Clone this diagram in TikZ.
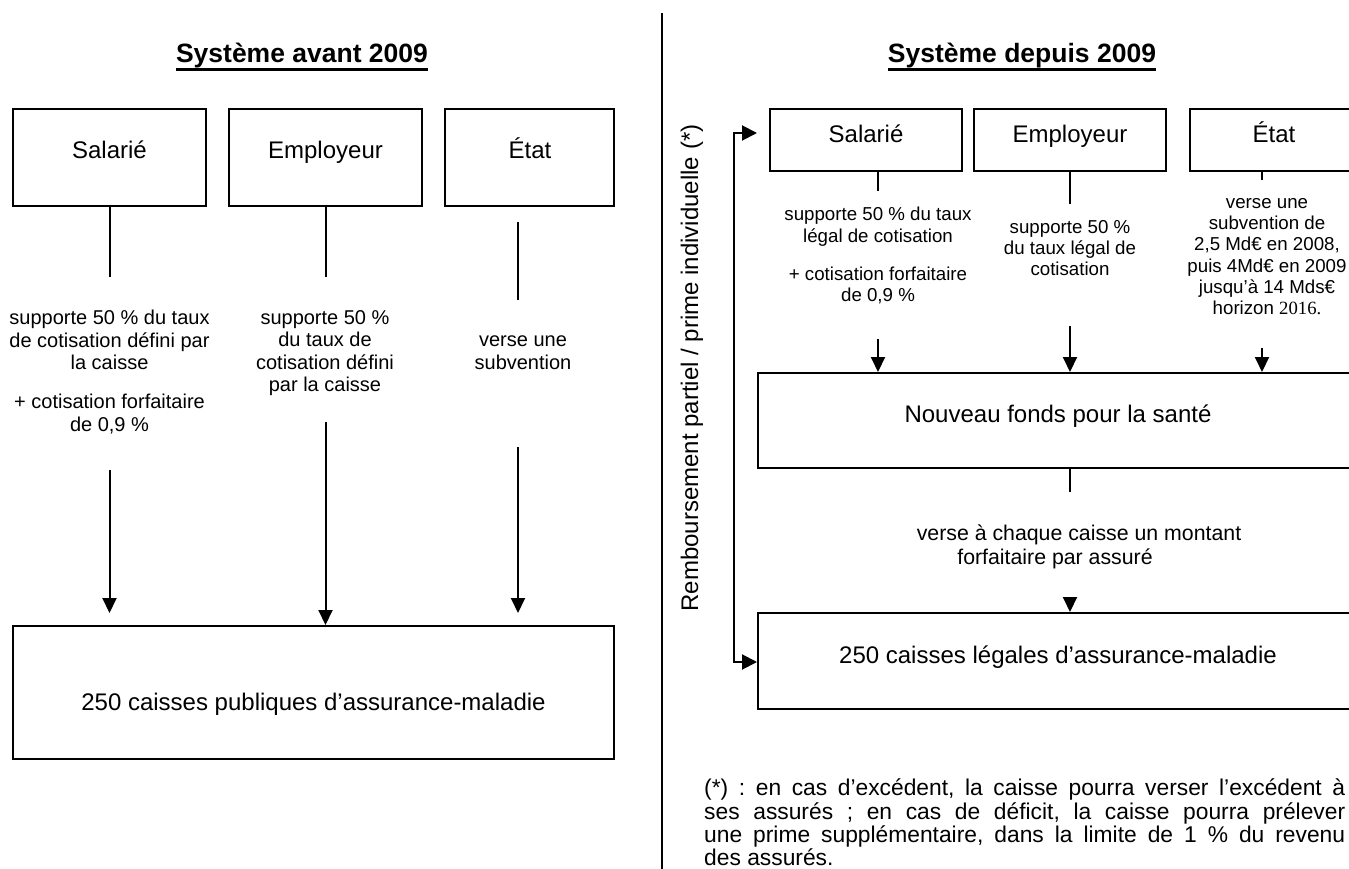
\documentclass[tikz,border=0pt]{standalone}
\usepackage{fontspec}
\setmainfont{Liberation Sans}
\newfontfamily\tnrfont{Liberation Serif}
\usetikzlibrary{arrows.meta}
\frenchspacing
\tikzset{
  box/.style={draw, line width=2pt, inner sep=0pt},
  lbl/.style={font=\fontsize{24}{28}\selectfont, inner sep=0pt, anchor=base},
  ttl/.style={font=\fontsize{26.5}{30}\selectfont\bfseries, inner sep=0pt, anchor=base},
  uline/.style={line width=2.2pt},
  sm/.style={font=\fontsize{20}{22.5}\selectfont, align=center, inner sep=0pt, anchor=north},
  rsm/.style={font=\fontsize{18.7}{21.3}\selectfont, align=center, inner sep=0pt, anchor=north},
  mid/.style={font=\fontsize{21.3}{24}\selectfont, inner sep=0pt, anchor=base},
  conn/.style={line width=2pt},
  arr/.style={conn, -{Triangle[length=15pt,width=14pt]}},
}
\begin{document}
\begin{tikzpicture}[x=1pt,y=-1pt]
\useasboundingbox (0,0) rectangle (1349,869);
\fill[white] (0,0) rectangle (1349,869);
\clip (0,0) rectangle (1349,869);

% ---------- left: before 2009 ----------
\node[ttl] (tA) at (302,63) {Système avant 2009};
\draw[uline] ([yshift=-6.5pt]tA.base west) -- ([yshift=-6.5pt]tA.base east);

\node[box, minimum width=193pt, minimum height=97pt] (salA) at (109.5,157.5) {};
\node[box, minimum width=193pt, minimum height=97pt] (empA) at (325.5,157.5) {};
\node[box, minimum width=169pt, minimum height=97pt] (etaA) at (529.5,157.5) {};
\node[lbl] (salAl) at (109.5,158.6) {Salarié};
\node[lbl] (empAl) at (325.5,158.6) {Employeur};
\node[lbl] (etaAl) at (530,158.6) {État};

\node[sm] (salAt) at (109.5,310) {supporte 50 \% du taux\\de cotisation défini par\\la caisse\\[16.5pt]+ cotisation forfaitaire\\de 0,9 \%};
\node[sm] (empAt) at (325,310) {supporte 50 \%\\du taux de\\cotisation défini\\par la caisse};
\node[sm] (etaAt) at (523,336) {verse une\\subvention};

\coordinate (a1) at (109.5,277);
\coordinate (a2) at (325.5,277);
\coordinate (a3a) at (518,222);
\coordinate (a3b) at (518,300);
\draw[conn] (salA.south) -- (a1);
\draw[conn] (empA.south) -- (a2);
\draw[conn] (a3a) -- (a3b);

\node[box, minimum width=601pt, minimum height=133pt] (cpA) at (313.5,692.5) {};
\node[lbl] (cpAl) at (313.5,710.6) {250 caisses publiques d’assurance-maladie};

\coordinate (b1) at (109.5,470);
\coordinate (b1e) at (109.5,613);
\coordinate (b2) at (325.5,422);
\coordinate (b3) at (518,447);
\coordinate (b3e) at (518,613);
\draw[arr] (b1) -- (b1e);
\draw[arr] (b2) -- (b2 |- cpA.north);
\draw[arr] (b3) -- (b3e);

% ---------- divider ----------
\coordinate (d1) at (662,13);
\coordinate (d2) at (662,869);
\draw[line width=2.5pt] (d1) -- (d2);

% ---------- right: since 2009 ----------
\node[ttl] (tB) at (1022,63) {Système depuis 2009};
\draw[uline] ([yshift=-6.5pt]tB.base west) -- ([yshift=-6.5pt]tB.base east);

\node[box, minimum width=192pt, minimum height=62pt] (salB) at (866,140) {};
\node[box, minimum width=192pt, minimum height=62pt] (empB) at (1070,140) {};
\node[box, minimum width=168pt, minimum height=62pt] (etaB) at (1274,140) {};
\node[lbl] (salBl) at (866,142.6) {Salarié};
\node[lbl] (empBl) at (1070,142.6) {Employeur};
\node[lbl] (etaBl) at (1274,142.6) {État};

\node[rsm] (salBt) at (878,207) {supporte 50 \% du taux\\légal de cotisation\\[17pt]+ cotisation forfaitaire\\de 0,9 \%};
\node[rsm] (empBt) at (1070,220) {supporte 50 \%\\du taux légal de\\cotisation};
\node[rsm] (etaBt) at (1267,198) {verse une\\subvention de\\2,5 Md€ en 2008,\\puis 4Md€ en 2009\\jusqu’à 14 Mds€\\horizon {\tnrfont 2016.}};

\coordinate (c1) at (878,191);
\coordinate (c2) at (1070,204);
\coordinate (c3) at (1262,180);
\draw[conn] (salB.south -| c1) -- (c1);
\draw[conn] (empB.south) -- (c2);
\draw[conn] (etaB.south -| c3) -- (c3);

\node[box, minimum width=602pt, minimum height=95pt] (fds) at (1059,420.5) {};
\node[lbl] (fdsl) at (1058,422.6) {Nouveau fonds pour la santé};

\coordinate (e1) at (878,339);
\coordinate (e2) at (1070,326);
\coordinate (e3) at (1262,348);
\draw[arr] (e1) -- (e1 |- fds.north);
\draw[arr] (e2) -- (e2 |- fds.north);
\draw[arr] (e3) -- (e3 |- fds.north);

\coordinate (f1) at (1070,492);
\draw[conn] (fds.south -| f1) -- (f1);
\node[mid] (vl1) at (1079,540.7) {verse à chaque caisse un montant};
\node[mid] (vl2) at (1055,564.7) {forfaitaire par assuré};

\node[box, minimum width=602pt, minimum height=96pt] (cpB) at (1059,661) {};
\node[lbl] (cpBl) at (1058,663.6) {250 caisses légales d’assurance-maladie};
\coordinate (f2) at (1070,598);
\draw[arr] (f2) -- (f2 |- cpB.north);

% feedback loop
\coordinate (g1) at (757,133);
\coordinate (g2) at (734,133);
\coordinate (g3) at (734,662);
\draw[conn, {Triangle[length=15pt,width=15pt]}-{Triangle[length=15pt,width=15pt]}] (g1) -- (g2) -- (g3) -- (g3 -| cpB.west);
\node[lbl, anchor=center, rotate=90] (rb) at (692,368) {Remboursement partiel / prime individuelle (*)};

% footnote
\node[anchor=north west, inner sep=0pt, text width=641pt, align=justify, font=\fontsize{22.8}{23.3}\selectfont] (fn) at (704,779) {(*) : en cas d’excédent, la caisse pourra verser l’excédent à\linebreak ses assurés ; en cas de déficit, la caisse pourra prélever\linebreak une prime supplémentaire, dans la limite de 1 \% du revenu\linebreak des assurés.};
\end{tikzpicture}
\end{document}
